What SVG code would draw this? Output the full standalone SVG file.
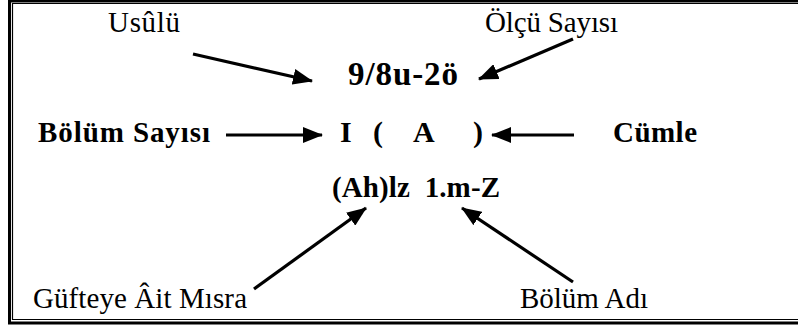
<svg xmlns="http://www.w3.org/2000/svg" width="798" height="326" viewBox="0 0 798 326">
<defs>
<style>
.lbl{font-family:'Liberation Serif','DejaVu Serif',serif;font-size:29px;fill:#000}
.b{font-weight:bold}
.big{font-size:33px}
.mid{font-size:30px}
.con{stroke:#000;stroke-width:3.2;fill:none;marker-end:url(#ah)}
.frame{fill:none;stroke:#000}
</style>
<marker id="ah" markerUnits="userSpaceOnUse" markerWidth="20" markerHeight="16" viewBox="0 0 20 16" refX="19" refY="8" orient="auto">
<path d="M0,0 L20,8 L0,16 Z" fill="#000"/>
</marker>
</defs>
<rect width="798" height="326" fill="#fff"/>
<g id="frame">
<path class="frame" stroke-width="3" d="M9.5,323 V1 H800"/>
<path class="frame" stroke-width="2" d="M8,1 H800"/>
<path class="frame" stroke-width="3" d="M8,323 H800"/>
<path class="frame" stroke-width="1.2" d="M12.5,319.5 V3.5 H800 M12,319.5 H800"/>
</g>
<g id="connectors">
<line class="con" x1="193" y1="54" x2="312" y2="81"/>
<line class="con" x1="573" y1="39" x2="479" y2="79"/>
<line class="con" x1="226" y1="135" x2="322" y2="135"/>
<line class="con" x1="574" y1="135" x2="492" y2="135"/>
<line class="con" x1="254" y1="289" x2="366" y2="208"/>
<line class="con" x1="573" y1="282" x2="462" y2="208"/>
</g>
<g id="usulu"><text class="lbl" x="108" y="32" textLength="72">Usûlü</text></g>
<g id="olcu-sayisi"><text class="lbl" x="485" y="32" textLength="133">Ölçü Sayısı</text></g>
<g id="meter"><text class="lbl b big" x="348" y="85" textLength="110">9/8u-2ö</text></g>
<g id="bolum-sayisi"><text class="lbl b" x="38" y="142" textLength="172">Bölüm Sayısı</text></g>
<g id="section"><text class="lbl b mid" y="142"><tspan x="340">I</tspan><tspan x="373">(</tspan><tspan x="413">A</tspan><tspan x="473">)</tspan></text></g>
<g id="cumle"><text class="lbl b" x="613" y="142" textLength="84">Cümle</text></g>
<g id="lyric"><text class="lbl b" x="332" y="197" textLength="168" xml:space="preserve">(Ah)lz  1.m-Z</text></g>
<g id="gufte"><text class="lbl" x="33" y="308" textLength="214">Güfteye Âit Mısra</text></g>
<g id="bolum-adi"><text class="lbl" x="520" y="308" textLength="128">Bölüm Adı</text></g>
</svg>
